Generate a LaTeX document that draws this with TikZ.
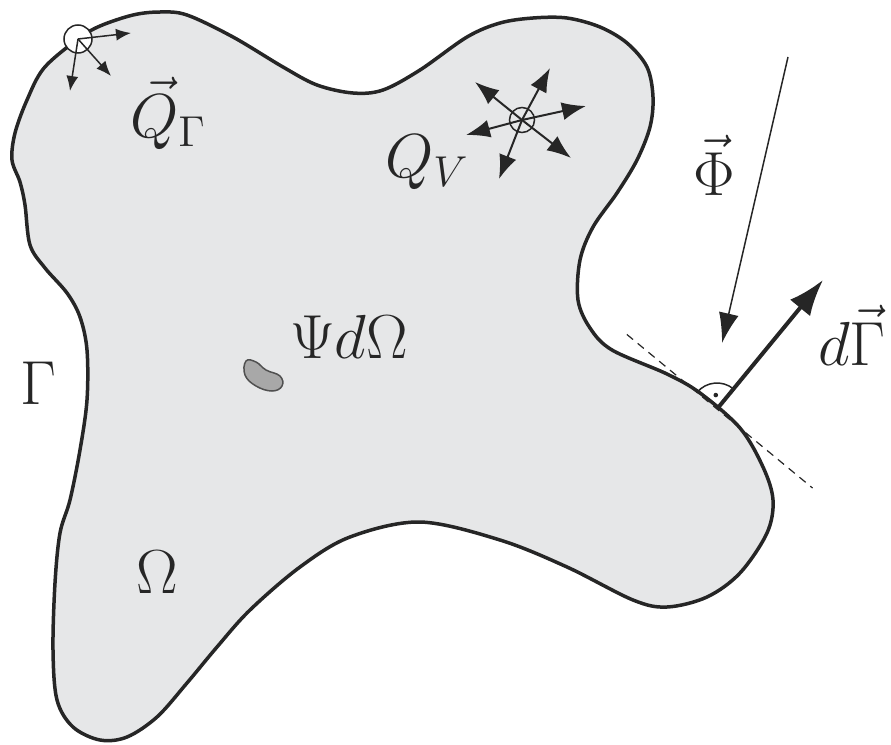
\documentclass[tikz,border=0pt]{standalone}
\usepackage{graphicx}
\usetikzlibrary{arrows.meta,calc}
\definecolor{regionfill}{HTML}{E6E7E8}
\definecolor{edge}{HTML}{262626}
\definecolor{blobgray}{HTML}{A8A8A8}
\definecolor{blobedge}{HTML}{505050}
\newcommand{\biglabel}[1]{\scalebox{3}{\fontsize{20}{24}\selectfont$#1$}}
\tikzset{
  bigfont/.style={inner sep=0pt, text=edge},
  thinarrow/.style={draw=edge, line width=1.5pt, -{Latex[length=15pt,width=12pt]}},
  stararrow/.style={draw=edge, line width=2pt, -{Latex[length=24pt,width=18pt]}},
  fluxarrow/.style={draw=edge, line width=1.5pt, -{Latex[length=30pt,width=20pt]}},
  normalarrow/.style={draw=edge, line width=4pt, -{Latex[length=36pt,width=26pt]}},
  tangentline/.style={draw=edge, line width=1.2pt, dash pattern=on 8pt off 6pt},
}
\begin{document}
\begin{tikzpicture}[x=1pt,y=-1pt]
\useasboundingbox (0,0) rectangle (891,744);

% domain Omega with boundary Gamma
\draw[fill=regionfill, draw=edge, line width=3.5pt]
  plot[smooth cycle, tension=0.55] coordinates {
  (44,68) (78,39) (100,26) (133,15) (160,12) (187,15) (233,37) (283,67)
  (317,85) (353,93) (383,90) (420,70) (467,37) (500,23) (533,18)
  (567,18) (600,27) (627,43) (647,67) (653,97) (650,127) (637,160)
  (617,193) (593,227) (580,260) (578,300) (590,328) (612,350)
  (667,374) (700,393) (740,428) (763,467) (773,500) (767,533)
  (740,573) (707,597) (667,607) (633,600) (567,567) (500,540)
  (420,522) (350,537) (300,567) (250,610) (217,647) (187,683)
  (157,717) (127,737) (100,740) (73,727) (57,700) (53,650) (55,583)
  (60,533) (70,500) (80,450) (87,400) (87,350) (80,317) (67,293)
  (45,268) (30,245) (25,205) (20,182) (12,160) (15,133) (27,100)};

% small volume element
\draw[fill=blobgray, draw=blobedge, line width=1.5pt]
  plot[smooth cycle, tension=0.7] coordinates {
  (246,361) (256,362) (266,370) (280,376) (282,386) (272,391) (256,386) (245,375)};

% boundary source Q_Gamma
\coordinate (qg) at (78,39);
\coordinate (qg1) at (131,33);
\coordinate (qg2) at (111,76);
\coordinate (qg3) at (70,91);
\draw[draw=edge, fill=white, line width=1.5pt] (qg) circle (14pt);
\draw[thinarrow] (qg) -- (qg1);
\draw[thinarrow] (qg) -- (qg2);
\draw[thinarrow] (qg) -- (qg3);

% volume source Q_V
\coordinate (qv) at (522,120);
\coordinate (qva) at (550,68);
\coordinate (qvb) at (475,82);
\coordinate (qvc) at (586,106);
\coordinate (qvd) at (466,135);
\coordinate (qve) at (571,158);
\coordinate (qvf) at (499,179);
\draw[draw=edge, line width=1.5pt] (qv) circle (12.5pt);
\foreach \t in {qva,qvb,qvc,qvd,qve,qvf} \draw[stararrow] (qv) -- (\t);

% flux
\coordinate (phistart) at (788,57);
\coordinate (phiend) at (722,343);
\draw[fluxarrow] (phistart) -- (phiend);

% surface normal
\coordinate (T) at (717,409);
\coordinate (nrm) at (823,280);
\coordinate (tan1) at ($(T)+(-140.4:117)$);
\coordinate (tan2) at ($(T)+(39.6:124)$);
\draw[tangentline] (tan1) -- (tan2);
\draw[draw=edge, line width=1.5pt] ($(T)+(-140.4:26)$) arc[start angle=-140.4, end angle=-50.6, radius=26];
\fill[edge] ($(T)+(-95:14)$) circle (2.3pt);
\draw[normalarrow] (T) -- (nrm);

% labels
\node[bigfont, anchor=base west] (qgl) at (130,137) {\biglabel{\vec{Q}_\Gamma}};
\node[bigfont, anchor=base west] (qvl) at (385,177) {\biglabel{Q_V}};
\node[bigfont, anchor=base west] (phil) at (693,195) {\biglabel{\vec{\Phi}}};
\node[bigfont, anchor=base west] (dgl) at (818,365) {\biglabel{d\vec{\Gamma}}};
\node[bigfont] (gl) at (38,383) {\biglabel{\Gamma}};
\node[bigfont] (oml) at (157,572) {\biglabel{\Omega}};
\node[bigfont, anchor=base west] (psil) at (290,358) {\biglabel{\Psi d\Omega}};
\end{tikzpicture}
\end{document}
